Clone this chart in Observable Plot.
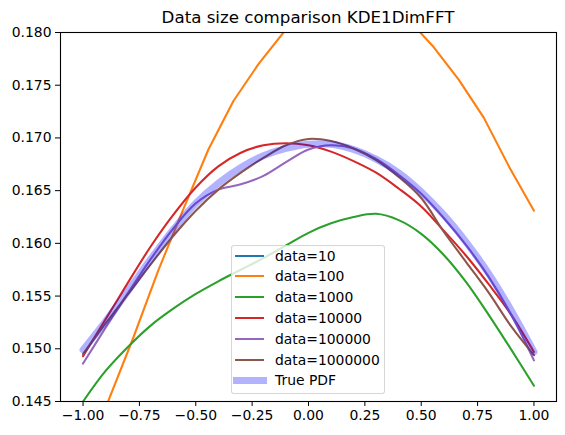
<!DOCTYPE html>
<html><head><meta charset="utf-8">
<script src="https://cdn.jsdelivr.net/npm/d3@7"></script>
<script src="https://cdn.jsdelivr.net/npm/@observablehq/plot@0.6"></script>
<style>
body{margin:0;background:#fff;font-family:"DejaVu Sans",sans-serif;}
#wrap{position:relative;width:565px;height:435px;overflow:hidden;}
#title{position:absolute;left:60px;width:496px;top:8px;text-align:center;font-size:16.67px;line-height:20px;color:#000;white-space:nowrap;}
#legend{position:absolute;left:231px;top:245px;width:154px;height:149px;box-sizing:border-box;border:1px solid rgba(204,204,204,0.8);border-radius:3px;background:rgba(255,255,255,0.8);}
.handle{position:absolute;}
.lab{position:absolute;font-size:13.9px;line-height:16px;color:#000;white-space:nowrap;}
</style></head>
<body>
<div id="wrap"><div id="title"></div></div>
<script>
const titleText = "Data size comparison KDE1DimFFT";
const xTicks = [-1.0, -0.75, -0.5, -0.25, 0.0, 0.25, 0.5, 0.75, 1.0];
const yTicks = [0.145, 0.150, 0.155, 0.160, 0.165, 0.170, 0.175, 0.180];

// evaluation grids
const xFine = [-1.0,-0.9,-0.8,-0.7,-0.6,-0.5,-0.4,-0.3,-0.2,-0.1,0.0,0.1,0.2,0.3,0.4,0.5,0.6,0.7,0.8,0.9,1.0];
const xCoarse = [-1.0,-0.889,-0.778,-0.667,-0.556,-0.444,-0.333,-0.222,-0.111,0.0,0.111,0.222,0.333,0.444,0.556,0.667,0.778,0.889,1.0];

const seriesNames = ["data=10","data=100","data=1000","data=10000","data=100000","data=1000000"];
const seriesColors = ["#1f77b4","#ff7f0e","#2ca02c","#d62728","#9467bd","#8c564b"];

// data=10 lies entirely outside the visible y range
const data10 = [0.212,0.218,0.224,0.229,0.233,0.237,0.240,0.242,0.244,0.245,0.245,0.245,0.244,0.242,0.240,0.237,0.233,0.229,0.224,0.218,0.212];
const data100 = [0.1388,0.1450,0.1510,0.1574,0.1632,0.1689,0.1735,0.1770,0.1800,0.1825,0.1845,0.1852,0.1840,0.1812,0.1786,0.1755,0.1719,0.1673,0.1631];
const data1000 = [0.1450,0.1479,0.1502,0.1522,0.1538,0.1552,0.1564,0.1575,0.1586,0.1598,0.1610,0.1619,0.1625,0.1628,0.1622,0.1609,0.1589,0.1563,0.1532,0.1499,0.1465];
const data10000 = [0.1493,0.1528,0.1563,0.1597,0.1627,0.1653,0.1673,0.1686,0.1693,0.1695,0.1693,0.1687,0.1678,0.1667,0.1652,0.1635,0.1612,0.1588,0.1561,0.1532,0.1497];
const data100000 = [0.1486,0.1520,0.1553,0.1585,0.1614,0.1638,0.1651,0.1656,0.1664,0.1677,0.1689,0.1693,0.1690,0.1680,0.1665,0.1647,0.1624,0.1598,0.1568,0.1532,0.1489];
const data1000000 = [0.1495,0.1524,0.1552,0.1580,0.1607,0.1631,0.1651,0.1667,0.1681,0.1693,0.1699,0.1697,0.1690,0.1679,0.1663,0.1643,0.1611,0.1582,0.1553,0.1521,0.1494];
const truePdf = [0.1499,0.1526,0.1555,0.1585,0.1613,0.1638,0.1657,0.1672,0.1683,0.1690,0.1694,0.1694,0.1689,0.1680,0.1667,0.1649,0.1627,0.1601,0.1571,0.1536,0.1497];
const trueName = "True PDF";
const trueColor = "#0000ff";

const seriesX = [xFine, xCoarse, xFine, xFine, xFine, xFine];
const seriesY = [data10, data100, data1000, data10000, data100000, data1000000];
const seriesCurve = ["catmull-rom","linear","catmull-rom","catmull-rom","catmull-rom","catmull-rom"];

const toRows = (xs, ys) => xs.map((x, i) => ({x, y: ys[i]}));

const marks = seriesNames.map((name, k) =>
  Plot.line(toRows(seriesX[k], seriesY[k]), {x: "x", y: "y", stroke: seriesColors[k], strokeWidth: 2.08, curve: seriesCurve[k], clip: true})
);
marks.push(Plot.line(toRows(xFine, truePdf), {x: "x", y: "y", stroke: trueColor, strokeOpacity: 0.3, strokeWidth: 7, curve: "catmull-rom", clip: true}));
marks.push(Plot.frame({stroke: "#000", strokeWidth: 1.1}));

const chart = Plot.plot({
  width: 565, height: 435,
  marginLeft: 60, marginRight: 9, marginTop: 32, marginBottom: 34,
  style: {fontFamily: '"DejaVu Sans", sans-serif', fontSize: "13.9px", color: "#000", background: "#fff"},
  x: {domain: [-1.1, 1.1], ticks: xTicks, tickFormat: d3.format(".2f"), tickSize: 5, tickPadding: 4, label: null},
  y: {domain: [0.145, 0.18], ticks: yTicks, tickFormat: d3.format(".3f"), tickSize: 5, tickPadding: 4, label: null},
  marks
});

const wrap = document.getElementById("wrap");
wrap.insertBefore(chart, wrap.firstChild);
chart.style.position = "absolute"; chart.style.left = "0px"; chart.style.top = "0px";
document.getElementById("title").textContent = titleText;

// legend
const legend = document.createElement("div");
legend.id = "legend";
const entries = seriesNames.map((n, k) => ({name: n, color: seriesColors[k], w: 2, op: 1}))
  .concat([{name: trueName, color: trueColor, w: 7, op: 0.3}]);
entries.forEach((e, i) => {
  const cy = Math.round(9.5 + 20.8 * i);
  const h = document.createElement("div");
  h.className = "handle";
  const x0 = e.w > 3 ? 1 : 3, x1 = e.w > 3 ? 35 : 32;
  h.style.left = x0 + "px"; h.style.width = (x1 - x0) + "px";
  h.style.top = (cy - Math.floor(e.w / 2)) + "px"; h.style.height = e.w + "px";
  h.style.background = e.color; h.style.opacity = e.op;
  legend.appendChild(h);
  const t = document.createElement("div");
  t.className = "lab";
  t.textContent = e.name;
  t.style.left = "43px"; t.style.top = (cy - 8) + "px";
  legend.appendChild(t);
});
wrap.appendChild(legend);
</script>
</body></html>
